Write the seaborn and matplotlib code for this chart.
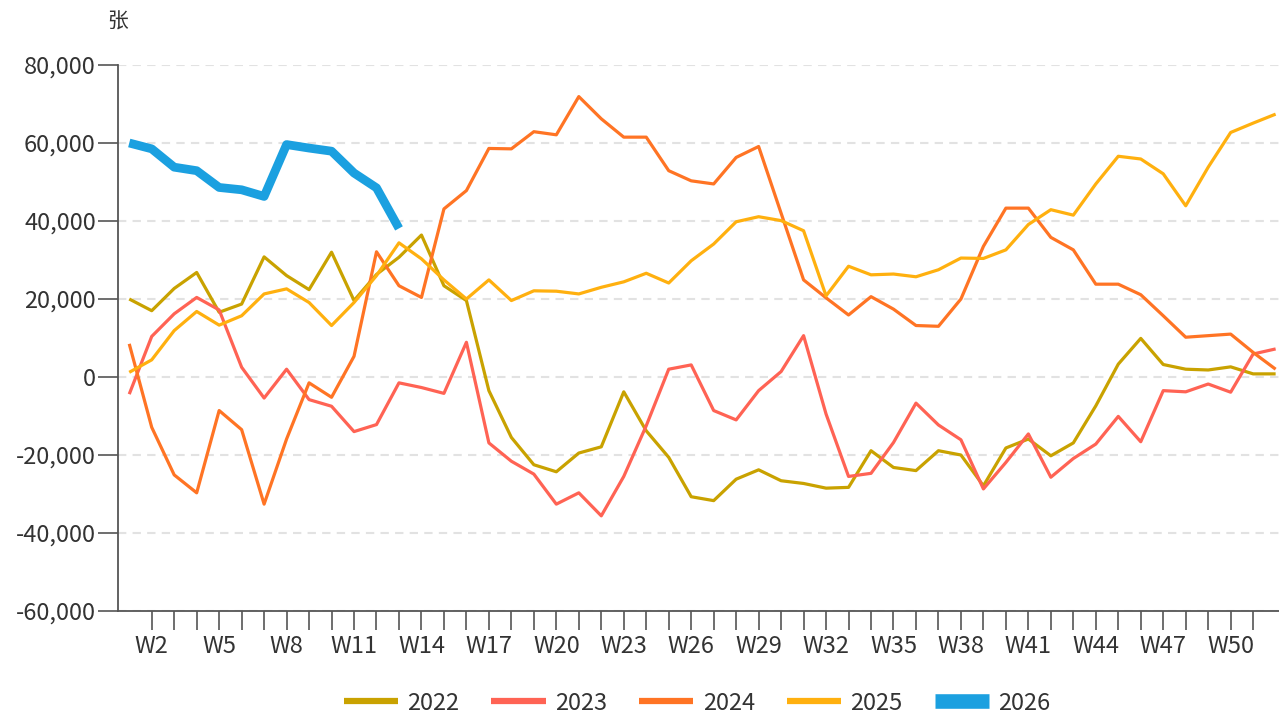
import matplotlib
matplotlib.use("Agg")
import matplotlib.pyplot as plt
import seaborn as sns
import numpy as np
import pandas as pd
from matplotlib.lines import Line2D
from matplotlib.ticker import FixedLocator, FuncFormatter

# ---------------- data ----------------
weeks = [f"W{i}" for i in range(1, 53)]
years = ["2022", "2023", "2024", "2025", "2026"]

y2022 = [20000, 17000, 22700, 26800, 16600, 18700, 30800, 26000, 22400, 32000,
         19600, 26300, 30700, 36400, 23400, 19600, -3500, -15500, -22500, -24300,
         -19500, -17900, -3800, -13800, -20600, -30700, -31700, -26200, -23800, -26600,
         -27300, -28500, -28300, -18900, -23200, -24000, -18900, -20000, -27900, -18200,
         -15900, -20200, -16900, -7400, 3300, 9900, 3200, 2000, 1800, 2600, 800, 800]
y2023 = [-4400, 10400, 16200, 20400, 17200, 2500, -5400, 2000, -5800, -7500,
         -14000, -12200, -1500, -2700, -4200, 8900, -16900, -21600, -24900, -32600,
         -29700, -35600, -25500, -12500, 2000, 3100, -8600, -11000, -3500, 1400,
         10600, -9500, -25500, -24700, -16800, -6700, -12300, -16100, -28700, -21900,
         -14600, -25700, -20900, -17200, -10100, -16600, -3500, -3800, -1800, -3900, 5900, 7200]
y2024 = [8500, -12900, -25100, -29700, -8600, -13500, -32600, -15900, -1500, -5200,
         5300, 32100, 23400, 20400, 43100, 47800, 58600, 58500, 62900, 62100,
         71900, 66200, 61500, 61500, 52900, 50300, 49500, 56300, 59100, 42000,
         24900, 20300, 15900, 20600, 17400, 13200, 13000, 20000, 33500, 43300,
         43300, 35800, 32600, 23800, 23800, 21100, 15700, 10200, 10600, 11000, 6300, 2000]
y2025 = [1200, 4400, 11900, 16800, 13300, 15700, 21300, 22600, 19100, 13200,
         19100, 26000, 34400, 30300, 24900, 20000, 24900, 19600, 22100, 22000,
         21300, 23000, 24400, 26600, 24100, 29800, 34100, 39800, 41100, 40100,
         37500, 20800, 28400, 26200, 26400, 25700, 27500, 30500, 30400, 32600,
         39100, 42900, 41500, 49500, 56600, 55900, 52100, 43900, 53800, 62700, 65100, 67400]
y2026 = [60000, 58500, 53800, 52900, 48600, 48000, 46300, 59600, 58700, 57900,
         52300, 48500, 38100]

yticks = [-60000, -40000, -20000, 0, 20000, 40000, 60000, 80000]
unit_label = "张"

colors = ["#C9A200", "#FF6354", "#FF7424", "#FFB00F", "#1BA0E0"]
widths = [2.3, 2.3, 2.3, 2.3, 6.3]
series = [y2022, y2023, y2024, y2025, y2026]

# ---------------- style ----------------
sns.set_theme(style="white")
plt.rcParams["font.family"] = ["Noto Sans CJK SC", "DejaVu Sans"]
text_color = "#333333"
axis_color = "#555555"

W, H = 1279, 713
fig = plt.figure(figsize=(W / 100, H / 100), dpi=100)
ax = fig.add_axes([118 / W, 102 / H, (W - 118) / W, 546 / H])

for yr, vals, c, lw in zip(years, series, colors, widths):
    df = pd.DataFrame({"x": np.arange(len(vals)), "y": vals})
    sns.lineplot(data=df, x="x", y="y", color=c, linewidth=lw, ax=ax,
                 solid_joinstyle="round", solid_capstyle="butt", zorder=3)

ax.set_xlim(-0.5, 51.15)
ax.set_ylim(-60000, 80000)
ax.set_xlabel("")
ax.set_ylabel("")

# y axis
ax.yaxis.set_major_locator(FixedLocator(yticks))
ax.yaxis.set_major_formatter(FuncFormatter(lambda v, p: f"{int(v):,}"))
ax.yaxis.grid(True, linestyle=(0, (4, 3)), color="#e2e2e2", linewidth=1.5)
ax.xaxis.grid(False)
ax.set_axisbelow(True)

# x axis
major_idx = list(range(1, 52, 3))
ax.xaxis.set_major_locator(FixedLocator(major_idx))
ax.set_xticklabels([weeks[i] for i in major_idx])
ax.xaxis.set_minor_locator(FixedLocator([i for i in range(1, 51) if i not in major_idx]))

ax.tick_params(axis="y", which="major", length=14.5, width=1.2, color=axis_color,
               labelsize=17, labelcolor=text_color, pad=1.5, left=True)
ax.tick_params(axis="x", which="both", length=14, width=1.2, color=axis_color,
               direction="out", bottom=True)
ax.tick_params(axis="x", which="major", labelsize=17, labelcolor=text_color, pad=3)

for s in ["top", "right"]:
    ax.spines[s].set_visible(False)
for s in ["left", "bottom"]:
    ax.spines[s].set_color(axis_color)
    ax.spines[s].set_linewidth(1.3)

# unit label
fig.text(118 / W, 1 - 22 / H, unit_label, ha="center", va="center",
         fontsize=15, color=text_color)

# legend
handles = [Line2D([0], [0], color=c, linewidth=(4.5 if i < 4 else 10.5),
                  solid_capstyle="butt")
           for i, c in enumerate(colors)]
fig.legend(handles, years, loc="center", bbox_to_anchor=(0.545, 1 - 703 / H),
           ncol=5, frameon=False, fontsize=17, handlelength=2.3,
           handletextpad=0.4, columnspacing=1.35, labelcolor=text_color)

fig.savefig("out.png", dpi=100)
